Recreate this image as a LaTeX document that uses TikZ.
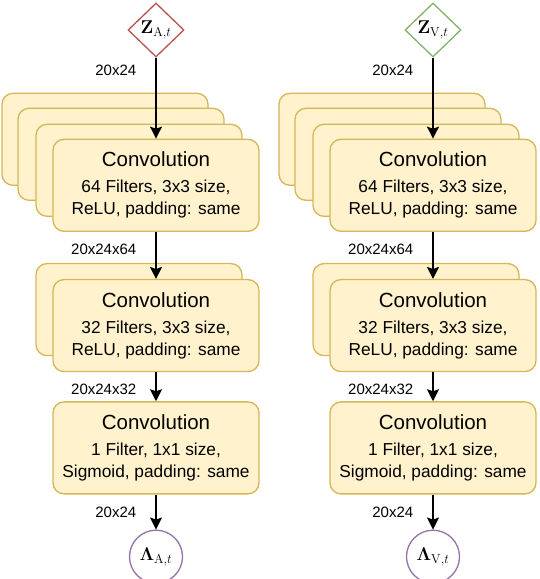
\documentclass[tikz,border=0pt]{standalone}
\usepackage{fix-cm}
\usepackage{amsmath}
\usepackage{bm}
\usepackage[no-math]{fontspec}
\setmainfont{Liberation Sans}
\usepackage{tikz}
\usetikzlibrary{positioning}
\usetikzlibrary{shapes.geometric}
\usetikzlibrary{arrows.meta}
\usetikzlibrary{backgrounds}
\definecolor{convFill}{HTML}{FFF2CC}
\definecolor{convLine}{HTML}{D6B656}
\definecolor{zRed}{HTML}{B85450}
\definecolor{zGreen}{HTML}{82B366}
\definecolor{lamPurple}{HTML}{9673A6}

\begin{document}
\begin{tikzpicture}[
    conv/.style={draw=convLine, fill=convFill, line width=1.3pt, rounded corners=11pt,
        minimum width=206pt, minimum height=92pt, align=center,
        font=\fontsize{17.3}{22}\selectfont},
    zvar/.style={diamond, line width=1.3pt, fill=white, minimum width=56pt,
        minimum height=54pt, inner sep=0pt, font=\fontsize{18.5}{20}\selectfont},
    lamvar/.style={circle, draw=lamPurple, line width=1.3pt, fill=white, minimum size=53pt,
        inner sep=0pt, font=\fontsize{18.5}{20}\selectfont},
    flow/.style={-{Stealth[length=12pt, width=12pt, inset=2pt]}, line width=1.5pt},
    dimlabel/.style={font=\fontsize{15}{17}\selectfont, inner sep=0pt}
]
        \useasboundingbox (0,0) rectangle (540pt,579pt);

        % left column
        \node[zvar, draw=zRed] (ZA) at (156pt,549pt) {$\mathbf{Z}_{\mathrm{A},t}$};
        \node[conv, below=81pt of ZA] (C1A) {{\fontsize{20.5}{24}\selectfont Convolution}\\[4pt]64 Filters, 3x3 size,\\ReLU, padding: same};
        \node[conv, below=47pt of C1A] (C2A) {{\fontsize{20.5}{24}\selectfont Convolution}\\[4pt]32 Filters, 3x3 size,\\ReLU, padding: same};
        \node[conv, below=29pt of C2A] (C3A) {{\fontsize{20.5}{24}\selectfont Convolution}\\[4pt]1 Filter, 1x1 size,\\Sigmoid, padding: same};
        \node[lamvar, below=35pt of C3A] (LA) {$\boldsymbol{\Lambda}_{\mathrm{A},t}$};

        % right column
        \node[zvar, draw=zGreen] (ZV) at (433pt,549pt) {$\mathbf{Z}_{\mathrm{V},t}$};
        \node[conv, below=81pt of ZV] (C1V) {{\fontsize{20.5}{24}\selectfont Convolution}\\[4pt]64 Filters, 3x3 size,\\ReLU, padding: same};
        \node[conv, below=47pt of C1V] (C2V) {{\fontsize{20.5}{24}\selectfont Convolution}\\[4pt]32 Filters, 3x3 size,\\ReLU, padding: same};
        \node[conv, below=29pt of C2V] (C3V) {{\fontsize{20.5}{24}\selectfont Convolution}\\[4pt]1 Filter, 1x1 size,\\Sigmoid, padding: same};
        \node[lamvar, below=35pt of C3V] (LV) {$\boldsymbol{\Lambda}_{\mathrm{V},t}$};

        % stacked copies behind
        \begin{scope}[on background layer]
            \node[conv, xshift=-51pt, yshift=46pt] (C1Ab3) at (C1A) {};
            \node[conv, xshift=-35pt, yshift=31pt] (C1Ab2) at (C1A) {};
            \node[conv, xshift=-17pt, yshift=15pt] (C1Ab1) at (C1A) {};
            \node[conv, xshift=-17pt, yshift=16pt] (C2Ab1) at (C2A) {};
            \node[conv, xshift=-51pt, yshift=46pt] (C1Vb3) at (C1V) {};
            \node[conv, xshift=-35pt, yshift=31pt] (C1Vb2) at (C1V) {};
            \node[conv, xshift=-17pt, yshift=15pt] (C1Vb1) at (C1V) {};
            \node[conv, xshift=-17pt, yshift=16pt] (C2Vb1) at (C2V) {};
        \end{scope}

        % edges
        \draw[flow] (ZA) -- (C1A) node[dimlabel, pos=0.16, left=19pt] {20x24};
        \draw[flow] (C1A) -- (C2A) node[dimlabel, pos=0.36, left=19pt] {20x24x64};
        \draw[flow] (C2A) -- (C3A) node[dimlabel, pos=0.59, left=19pt] {20x24x32};
        \draw[flow] (C3A) -- (LA) node[dimlabel, pos=0.51, left=19pt] {20x24};
        \draw[flow] (ZV) -- (C1V) node[dimlabel, pos=0.16, left=19pt] {20x24};
        \draw[flow] (C1V) -- (C2V) node[dimlabel, pos=0.36, left=19pt] {20x24x64};
        \draw[flow] (C2V) -- (C3V) node[dimlabel, pos=0.59, left=19pt] {20x24x32};
        \draw[flow] (C3V) -- (LV) node[dimlabel, pos=0.51, left=19pt] {20x24};
\end{tikzpicture}
\end{document}
